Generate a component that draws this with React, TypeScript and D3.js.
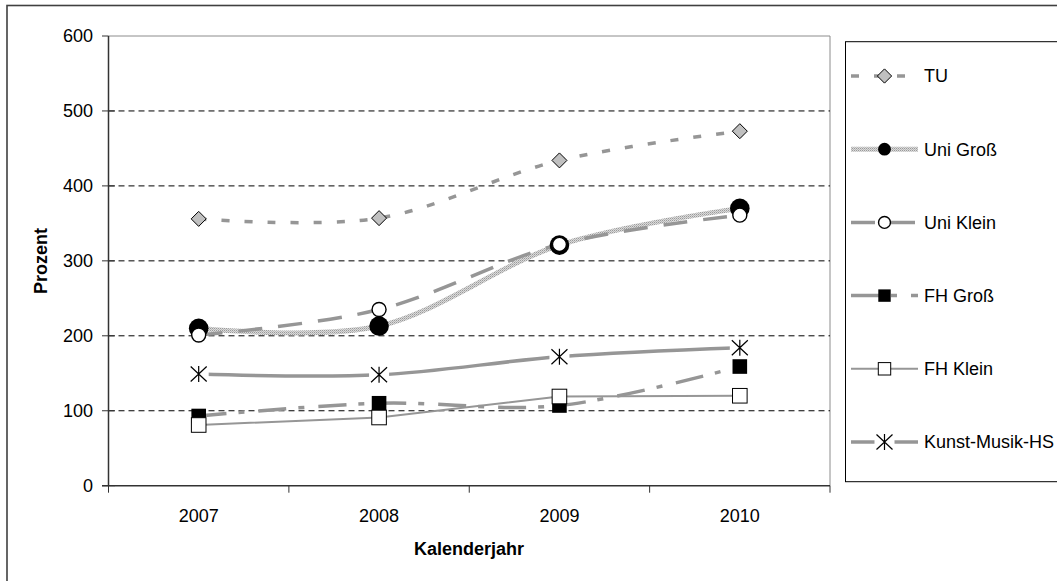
import React from 'react';
import * as d3 from 'd3';

const years = ['2007', '2008', '2009', '2010'];
const yTicks = [0, 100, 200, 300, 400, 500, 600];
const tuValues = [356, 357, 434, 473];
const uniGrossValues = [210, 213, 321, 370];
const uniKleinValues = [201, 235, 322, 361];
const fhGrossValues = [93, 110, 107, 159];
const fhKleinValues = [81, 91, 119, 120];
const kunstValues = [149, 148, 172, 184];

const seriesNames = ['TU', 'Uni Groß', 'Uni Klein', 'FH Groß', 'FH Klein', 'Kunst-Musik-HS'];

const FONT = 'Arial, "Liberation Sans", sans-serif';
const GRAY = '#969696';

type Marker = 'diamond' | 'dot' | 'circle' | 'sq' | 'sqo' | 'star';

interface Series {
  name: string;
  values: number[];
  stroke: string;
  width: number;
  dash?: string;
  smooth: boolean;
  marker: Marker;
}

const series: Series[] = [
  { name: seriesNames[0], values: tuValues, stroke: GRAY, width: 3.5, dash: '8,15', smooth: true, marker: 'diamond' },
  { name: seriesNames[1], values: uniGrossValues, stroke: 'url(#tex)', width: 5, smooth: true, marker: 'dot' },
  { name: seriesNames[2], values: uniKleinValues, stroke: GRAY, width: 3.5, dash: '24,16', smooth: true, marker: 'circle' },
  { name: seriesNames[3], values: fhGrossValues, stroke: GRAY, width: 3.5, dash: '28,12,6,14', smooth: true, marker: 'sq' },
  { name: seriesNames[4], values: fhKleinValues, stroke: GRAY, width: 2, smooth: false, marker: 'sqo' },
  { name: seriesNames[5], values: kunstValues, stroke: GRAY, width: 3.5, smooth: true, marker: 'star' },
];

function MarkerShape({ type, x, y, small }: { type: Marker; x: number; y: number; small?: boolean }) {
  const k = small ? 0.85 : 1;
  switch (type) {
    case 'diamond': {
      const s = 7.5 * (small ? 0.95 : 1);
      return <path d={`M${x},${y - s}L${x + s},${y}L${x},${y + s}L${x - s},${y}Z`} fill="#c0c0c0" stroke="#000" strokeWidth={1} />;
    }
    case 'dot':
      return <circle cx={x} cy={y} r={9.8 * (small ? 0.65 : 1)} fill="#000" />;
    case 'circle':
      return <circle cx={x} cy={y} r={7 * k} fill="#fff" stroke="#000" strokeWidth={1.4} />;
    case 'sq': {
      const s = 7.3 * (small ? 0.85 : 1);
      return <rect x={x - s} y={y - s} width={2 * s} height={2 * s} fill="#000" />;
    }
    case 'sqo': {
      const s = 7.3 * (small ? 0.85 : 1);
      return <rect x={x - s} y={y - s} width={2 * s} height={2 * s} fill="#fff" stroke="#000" strokeWidth={1} />;
    }
    case 'star': {
      const w = 8, h = 7.5;
      return (
        <g>
          <rect x={x - 10} y={y - 9} width={20} height={18} fill="#fff" />
          <path d={`M${x - w},${y - h}L${x + w},${y + h}M${x - w},${y + h}L${x + w},${y - h}M${x},${y - h - 0.5}L${x},${y + h + 0.5}`} stroke="#000" strokeWidth={1.2} fill="none" />
        </g>
      );
    }
  }
  return null;
}

export default function App() {
  const W = 1057, H = 581;
  const x = d3.scaleBand<string>().domain(years).range([108.5, 830]);
  const y = d3.scaleLinear().domain([0, 600]).range([485.7, 36]);
  const cx = (yr: string) => (x(yr) as number) + x.bandwidth() / 2;

  const lineFor = (s: Series) =>
    d3
      .line<number>()
      .x((_, i) => cx(years[i]))
      .y((v) => y(v))
      .curve(s.smooth ? d3.curveCardinal.tension(0) : d3.curveLinear)(s.values) as string;

  const legendX0 = 851, legendX1 = 918, legendMx = 884.5, legendTx = 924;
  const legendY = (i: number) => 76 + i * 73.2;

  return (
    <svg width={W} height={H} style={{ position: 'absolute', left: 0, top: 0, background: '#fff' }} fontFamily={FONT}>
      <defs>
        <pattern id="tex" patternUnits="userSpaceOnUse" width={2} height={2}>
          <rect width={2} height={2} fill="#dadada" />
          <rect width={1} height={1} fill="#9a9a9a" />
          <rect x={1} y={1} width={1} height={1} fill="#b8b8b8" />
        </pattern>
      </defs>
      <rect x={0} y={0} width={W} height={H} fill="#fff" />
      {/* outer chart border */}
      <rect x={7} y={5.5} width={1100} height={650} fill="none" stroke="#404040" strokeWidth={1.6} />

      {/* plot area border (top, right) */}
      <path d={`M${108.5},${y(600)}H830V${y(0)}`} fill="none" stroke="#8c8c8c" strokeWidth={1} />

      {/* gridlines */}
      {yTicks.filter((t) => t > 0 && t < 600).map((t) => (
        <line key={t} x1={108.5} x2={830} y1={y(t)} y2={y(t)} stroke="#000" strokeWidth={1} strokeDasharray="6,4" />
      ))}

      {/* y axis */}
      <line x1={108.5} x2={108.5} y1={y(600)} y2={y(0)} stroke="#333" strokeWidth={1.5} />
      {yTicks.map((t) => (
        <g key={t}>
          <line x1={102} x2={t === 600 ? 108.5 : 115} y1={y(t)} y2={y(t)} stroke="#333" strokeWidth={1} />
          <text x={93} y={y(t)} dy="0.36em" textAnchor="end" fontSize={18} fill="#000">{t}</text>
        </g>
      ))}

      {/* x axis */}
      <line x1={102} x2={830} y1={y(0)} y2={y(0)} stroke="#333" strokeWidth={1.6} />
      {[...years.map((yr) => x(yr) as number), 830].map((xx, i) => (
        <line key={i} x1={xx} x2={xx} y1={y(0)} y2={y(0) + 7} stroke="#333" strokeWidth={1} />
      ))}
      {years.map((yr) => (
        <text key={yr} x={cx(yr)} y={516} dy="0.36em" textAnchor="middle" fontSize={18} fill="#000">{yr}</text>
      ))}

      {/* axis titles */}
      <text x={469} y={549} dy="0.36em" textAnchor="middle" fontSize={18} fontWeight="bold" fill="#000">Kalenderjahr</text>
      <text transform={`translate(41,261) rotate(-90)`} dy="0.36em" textAnchor="middle" fontSize={18} fontWeight="bold" fill="#000">Prozent</text>

      {/* lines */}
      {series.map((s) => (
        <path key={s.name} d={lineFor(s)} fill="none" stroke={s.stroke} strokeWidth={s.width} strokeDasharray={s.dash} strokeLinecap="butt" strokeLinejoin="round" />
      ))}

      {/* markers */}
      {series.map((s) => (
        <g key={s.name}>
          {s.values.map((v, i) => (
            <MarkerShape key={i} type={s.marker} x={cx(years[i])} y={y(v)} />
          ))}
        </g>
      ))}

      {/* legend */}
      <rect x={845.5} y={41.7} width={300} height={440} fill="#fff" stroke="#000" strokeWidth={1} />
      {series.map((s, i) => (
        <g key={s.name}>
          <line x1={legendX0} x2={legendX1} y1={legendY(i)} y2={legendY(i)} stroke={s.stroke} strokeWidth={s.width} strokeDasharray={s.dash} />
          <MarkerShape type={s.marker} x={legendMx} y={legendY(i)} small />
          <text x={legendTx} y={legendY(i)} dy="0.36em" fontSize={18} fill="#000">{s.name}</text>
        </g>
      ))}
    </svg>
  );
}
